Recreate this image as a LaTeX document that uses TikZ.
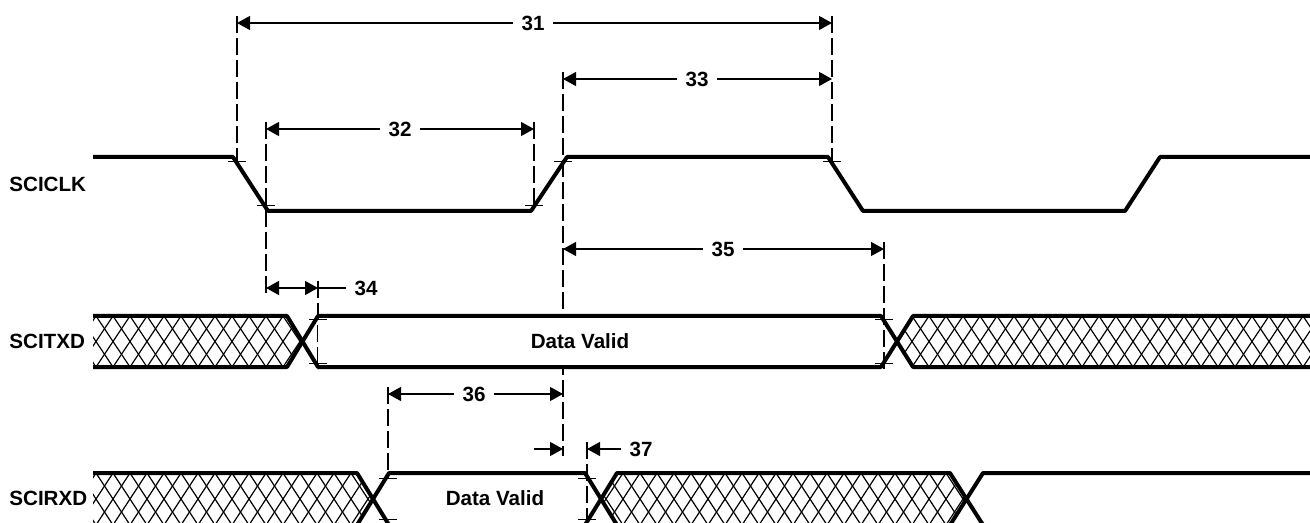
\documentclass[tikz,border=0pt]{standalone}
\usepackage{fontspec}
\setmainfont{Liberation Sans}
\usetikzlibrary{arrows.meta}

\begin{document}
\begin{tikzpicture}[x=0.5pt,y=-0.5pt,>={Triangle[length=6.5pt,width=7pt]}]
        \tikzstyle{every node}=[font=\bfseries\fontsize{10.3}{12}\selectfont, inner sep=0pt]
        \tikzstyle{wave}=[line width=2pt, line join=round]
        \tikzstyle{guide}=[line width=0.6pt, dash pattern=on 8.5pt off 2.5pt]
        \tikzstyle{dim}=[line width=0.6pt]
        \tikzstyle{tick}=[line width=0.5pt]
        \tikzstyle{hatch}=[line width=0.6pt]
        \tikzstyle{dimlbl}=[inner xsep=4pt]
        \useasboundingbox (0,0) rectangle (1310,523);

        \foreach \x/\ya/\yb in {237/16/166, 266/122/293, 534/122/210, 563/72/456, 832/16/166,
                884/242/369, 318/281/369, 388/387/478, 587/442/525}
            \draw[guide] (\x,\ya) -- (\x,\yb);

        \fill[white] (318,318) rectangle (881,365);

        \begin{scope}
            \clip (93,316) -- (287,316) -- (302.5,341.5) -- (287,367) -- (93,367) -- cycle;
            \foreach \x in {62,79,...,340}
                \draw[hatch] (\x,316) -- ++(34,51) (\x,316) -- ++(-34,51);
        \end{scope}
        \begin{scope}
            \clip (1310,316) -- (913,316) -- (897,341.5) -- (913,367) -- (1310,367) -- cycle;
            \foreach \x in {861,878,...,1350}
                \draw[hatch] (\x,316) -- ++(34,51) (\x,316) -- ++(-34,51);
        \end{scope}
        \begin{scope}
            \clip (93,473) -- (357,473) -- (373,499) -- (357,525) -- (93,525) -- cycle;
            \foreach \x in {62,79,...,410}
                \draw[hatch] (\x,473) -- ++(34,52) (\x,473) -- ++(-34,52);
        \end{scope}
        \begin{scope}
            \clip (617,473) -- (950,473) -- (966.5,499) -- (950,525) -- (617,525) -- (601,499) -- cycle;
            \foreach \x in {555,572,...,1005}
                \draw[hatch] (\x,473) -- ++(34,52) (\x,473) -- ++(-34,52);
        \end{scope}

        \draw[wave] (93,157) -- (233,157) -- (268,211) -- (531,211) -- (567,157) -- (828,157)
            -- (863,211) -- (1125,211) -- (1160,157) -- (1310,157);
        \draw[wave] (93,316) -- (287,316) -- (318,367) -- (881,367) -- (913,316) -- (1310,316);
        \draw[wave] (93,367) -- (287,367) -- (318,316) -- (881,316) -- (913,367) -- (1310,367);
        \draw[wave] (93,473) -- (357,473) -- (389,525) -- (585,525) -- (617,473) -- (950,473)
            -- (983,525) -- (1310,525);
        \draw[wave] (93,525) -- (357,525) -- (389,473) -- (585,473) -- (617,525) -- (950,525)
            -- (983,473) -- (1310,473);

        \foreach \x/\y in {237/162, 266/206, 534/206, 563/162, 832/162, 318/320, 318/363,
                884/320, 884/363, 388/478, 388/519, 587/478, 587/519}
            \draw[tick] (\x-9,\y) -- ++(18,0);

        \node[anchor=west] (clk) at (9,184) {SCICLK};
        \node[anchor=west] (txd) at (9,341.5) {SCITXD};
        \node[anchor=west] (rxd) at (9,498) {SCIRXD};
        \node (txvalid) at (580,341.5) {Data Valid};
        \node (rxvalid) at (495,498) {Data Valid};

        \coordinate (a31) at (237,23);
        \coordinate (b31) at (832,23);
        \node[dimlbl] (l31) at (533,23) {31};
        \draw[dim,<-] (a31) -- (l31);
        \draw[dim,->] (l31) -- (b31);

        \coordinate (a32) at (266,129);
        \coordinate (b32) at (534,129);
        \node[dimlbl] (l32) at (400,129) {32};
        \draw[dim,<-] (a32) -- (l32);
        \draw[dim,->] (l32) -- (b32);

        \coordinate (a33) at (563,79);
        \coordinate (b33) at (832,79);
        \node[dimlbl] (l33) at (697,79) {33};
        \draw[dim,<-] (a33) -- (l33);
        \draw[dim,->] (l33) -- (b33);

        \coordinate (a34) at (266,288);
        \coordinate (b34) at (318,288);
        \node[dimlbl] (l34) at (366,288) {34};
        \draw[dim,<->] (a34) -- (b34);
        \draw[dim] (b34) -- (l34);

        \coordinate (a35) at (563,249);
        \coordinate (b35) at (884,249);
        \node[dimlbl] (l35) at (723,249) {35};
        \draw[dim,<-] (a35) -- (l35);
        \draw[dim,->] (l35) -- (b35);

        \coordinate (a36) at (388,394);
        \coordinate (b36) at (563,394);
        \node[dimlbl] (l36) at (474,394) {36};
        \draw[dim,<-] (a36) -- (l36);
        \draw[dim,->] (l36) -- (b36);

        \coordinate (a37) at (534,449);
        \coordinate (b37) at (563,449);
        \coordinate (c37) at (587,449);
        \node[dimlbl] (l37) at (641,449) {37};
        \draw[dim,->] (a37) -- (b37);
        \draw[dim,<-] (c37) -- (l37);
    \end{tikzpicture}
\end{document}
